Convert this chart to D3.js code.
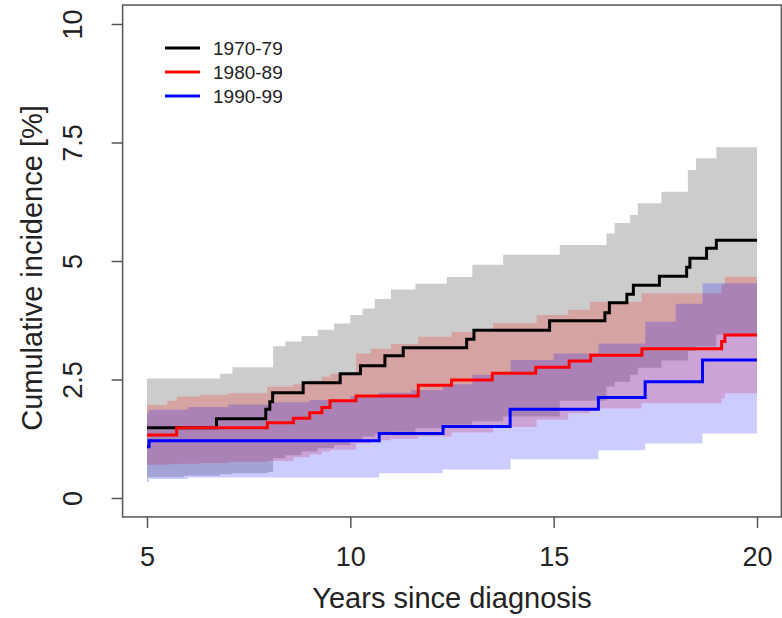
<!DOCTYPE html>
<html>
<head>
<meta charset="utf-8">
<script src="https://cdn.jsdelivr.net/npm/d3@7"></script>
<style>
  body { margin: 0; background: #fff; }
  svg text { font-family: "Liberation Sans", Arial, sans-serif; fill: #222; }
</style>
</head>
<body>
<div class="vis"></div>
<script>
// cumulative incidence estimates (step functions)
const seriesNames = ["1970-79", "1980-89", "1990-99"];
const seriesColors = ["#000000", "#ff0000", "#0000ff"];

const t7079 = [5, 6.71, 7.92, 8.02, 8.09, 8.84, 9.75, 10.25, 10.85, 11.3, 12.86, 13.04, 14.9, 16.26, 16.37, 16.8, 16.96, 17.6, 18.27, 18.35, 18.76, 19.0, 20];
const est7079 = [1.48, 1.67, 1.87, 2.03, 2.22, 2.43, 2.62, 2.79, 3.0, 3.17, 3.35, 3.54, 3.74, 3.91, 4.12, 4.30, 4.49, 4.68, 4.87, 5.06, 5.27, 5.44, 5.44];

const t8089 = [5, 5.73, 7.96, 8.6, 9.0, 9.3, 9.5, 10.14, 11.67, 12.49, 13.49, 14.56, 15.38, 15.91, 17.17, 19.13, 19.21, 20];
const est8089 = [1.33, 1.48, 1.59, 1.68, 1.80, 1.91, 2.05, 2.15, 2.38, 2.49, 2.63, 2.76, 2.89, 3.01, 3.15, 3.30, 3.44, 3.44];

const t9099 = [5, 5.05, 10.71, 12.28, 13.93, 16.1, 17.25, 18.66, 20];
const est9099 = [1.08, 1.21, 1.36, 1.51, 1.87, 2.12, 2.45, 2.91, 2.91];

// confidence bands
const ciT7079 = [5, 5.9, 6.8, 7.1, 7.97, 8.1, 8.4, 8.8, 9.2, 9.6, 10.0, 10.3, 10.6, 11.0, 11.6, 12.37, 13.0, 13.76, 15.15, 16.3, 16.5, 16.88, 17.07, 17.65, 18.3, 18.5, 19.0, 20];
const ciLo7079 = [0.44, 0.47, 0.5, 0.52, 0.55, 0.84, 0.9, 0.98, 1.05, 1.12, 1.2, 1.3, 1.35, 1.4, 1.47, 1.55, 1.62, 1.72, 2.05, 2.35, 2.45, 2.6, 2.75, 2.9, 3.1, 3.2, 3.45, 3.45];
const ciHi7079 = [2.52, 2.52, 2.62, 2.76, 2.76, 3.2, 3.3, 3.42, 3.55, 3.68, 3.86, 4.0, 4.2, 4.40, 4.52, 4.66, 4.92, 5.13, 5.34, 5.58, 5.8, 5.97, 6.22, 6.46, 6.92, 7.17, 7.40, 7.40];

const ciT8089 = [5, 5.5, 5.73, 6.3, 7.0, 7.96, 8.6, 9.0, 9.3, 9.5, 10.14, 10.5, 11.0, 11.67, 12.49, 13.51, 14.58, 15.36, 15.89, 17.16, 19.13, 19.21, 20];
const ciLo8089 = [0.70, 0.71, 0.72, 0.74, 0.76, 0.78, 0.86, 0.92, 0.98, 1.02, 1.15, 1.22, 1.25, 1.3, 1.38, 1.5, 1.65, 1.79, 1.89, 2.0, 2.1, 2.21, 2.21];
const ciHi8089 = [1.96, 2.05, 2.14, 2.18, 2.21, 2.35, 2.40, 2.48, 2.56, 2.62, 3.05, 3.15, 3.25, 3.40, 3.5, 3.69, 3.86, 3.97, 4.14, 4.32, 4.5, 4.67, 4.67];

const ciT9099 = [5, 5.05, 6.0, 7.0, 8.0, 9.0, 10.0, 10.71, 11.5, 12.27, 13.0, 13.94, 15.0, 16.1, 17.25, 18.0, 18.66, 20];
const ciLo9099 = [0.34, 0.40, 0.43, 0.43, 0.43, 0.43, 0.43, 0.52, 0.52, 0.6, 0.6, 0.82, 0.82, 1.01, 1.15, 1.15, 1.36, 1.36];
const ciHi9099 = [1.80, 1.86, 1.92, 1.97, 2.02, 2.07, 2.15, 2.22, 2.28, 2.40, 2.6, 2.91, 3.05, 3.26, 3.72, 4.1, 4.53, 4.53];

const xTicks = [5, 10, 15, 20];
const yTicks = [0, 2.5, 5, 7.5, 10];

const width = 782, height = 618;

const svg = d3.select('.vis').append('svg')
    .attr('width', width)
    .attr('height', height);

// R style: axis range extended 4% on each side
const x = d3.scaleLinear().domain([5, 20]).range([147, 757]);
const y = d3.scaleLinear().domain([0, 10]).range([498, 24]);

const x0 = x(4.4), x1 = x(20.6), yTop = y(10.4), yBot = y(-0.4);

const bands = [
    {t: ciT7079, lo: ciLo7079, hi: ciHi7079, fill: "rgba(0,0,0,0.2)"},
    {t: ciT8089, lo: ciLo8089, hi: ciHi8089, fill: "rgba(255,0,0,0.2)"},
    {t: ciT9099, lo: ciLo9099, hi: ciHi9099, fill: "rgba(0,0,255,0.2)"}
];
const lines = [
    {t: t7079, v: est7079},
    {t: t8089, v: est8089},
    {t: t9099, v: est9099}
];

const area = d3.area()
    .curve(d3.curveStepAfter)
    .x(d => x(d[0]))
    .y0(d => y(d[1]))
    .y1(d => y(d[2]));

bands.forEach(function(b) {
    const pts = b.t.map((t, i) => [t, b.lo[i], b.hi[i]]);
    svg.append("path")
        .attr("d", area(pts))
        .style("fill", b.fill)
        .style("stroke", "none");
});

const line = d3.line()
    .curve(d3.curveStepAfter)
    .x(d => x(d[0]))
    .y(d => y(d[1]));

lines.forEach(function(l, i) {
    const pts = l.t.map((t, j) => [t, l.v[j]]);
    svg.append("path")
        .attr("d", line(pts))
        .style("fill", "none")
        .style("stroke", seriesColors[i])
        .style("stroke-width", 3);
});

// box
svg.append("rect")
    .attr("x", x0).attr("y", yTop)
    .attr("width", x1 - x0).attr("height", yBot - yTop)
    .style("fill", "none")
    .style("stroke", "#555")
    .style("stroke-width", 1.5);

// x axis
const gx = svg.append("g")
    .attr("transform", "translate(0," + yBot + ")")
    .call(d3.axisBottom(x).tickValues(xTicks).tickSize(11).tickPadding(19));
gx.select(".domain").remove();
gx.selectAll("line").style("stroke", "#555").style("stroke-width", 1.5);
gx.selectAll("text").style("font-size", "27px").style("fill", "#222");

// y axis
const gy = svg.append("g")
    .attr("transform", "translate(" + x0 + ",0)")
    .call(d3.axisLeft(y).tickValues(yTicks).tickSize(11).tickFormat(d => d));
gy.select(".domain").remove();
gy.selectAll("line").style("stroke", "#555").style("stroke-width", 1.5);
gy.selectAll("text")
    .attr("x", null).attr("dy", null)
    .attr("transform", "translate(-50,0) rotate(-90)")
    .attr("text-anchor", "middle")
    .attr("dominant-baseline", "central")
    .style("font-size", "27px").style("fill", "#222");

// axis titles
svg.append("text")
    .attr("x", (x0 + x1) / 2)
    .attr("y", 608)
    .attr("text-anchor", "middle")
    .style("font-size", "29px")
    .text("Years since diagnosis");

svg.append("text")
    .attr("transform", "translate(42,268) rotate(-90)")
    .attr("text-anchor", "middle")
    .style("font-size", "29px")
    .text("Cumulative incidence [%]");

// legend
seriesNames.forEach(function(name, i) {
    const ly = 48 + i * 24;
    svg.append("line")
        .attr("x1", 165).attr("x2", 200)
        .attr("y1", ly).attr("y2", ly)
        .style("stroke", seriesColors[i])
        .style("stroke-width", 3);
    svg.append("text")
        .attr("x", 213).attr("y", ly)
        .attr("dominant-baseline", "central")
        .style("font-size", "19px")
        .text(name);
});
</script>
</body>
</html>
